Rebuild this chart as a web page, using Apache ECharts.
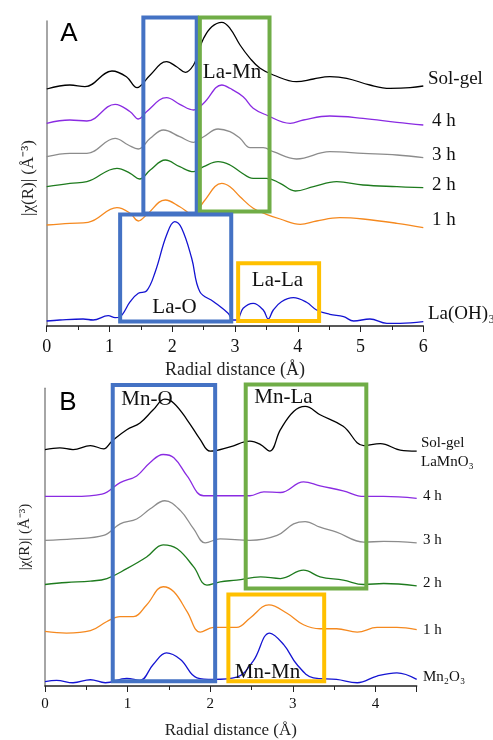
<!DOCTYPE html>
<html>
<head>
<meta charset="utf-8">
<script src="https://cdn.jsdelivr.net/npm/echarts@6/dist/echarts.min.js"></script>
<style>html,body{margin:0;padding:0;background:#fff;}#c{width:493px;height:740px;}</style>
</head>
<body>
<div id="c"></div>
<script>
// ---------- Panel A data (x in Å, y in offset units) ----------
const aX_solgel = [0,0.37,0.61,1.04,1.27,1.44,1.51,1.65,1.91,2.07,2.21,2.34,2.42,2.50,2.63,2.79,2.92,3.08,3.24,3.40,3.61,3.98,4.25,4.51,4.78,5.15,5.47,5.79,6.0];
const aY_solgel = [237,241,239.3,255,249.3,238.3,241,251,264.3,259.3,253.7,261,274.3,287.7,299.3,303.7,297.7,281,267.7,257.7,251,244.3,247,249.3,247.7,241,237.7,238.3,240];
const aX_4h = [0,0.37,0.64,1.09,1.33,1.46,1.59,1.91,2.12,2.34,2.50,2.79,2.92,3.13,3.29,3.50,3.88,4.09,4.51,5.04,5.58,6.0];
const aY_4h = [202.7,206,205,221.7,214.3,207,214.3,228.3,221.7,216,222.7,241,237.7,229.3,217.7,211,202.7,206,210,207.7,203.7,201];
const aX_3h = [0,0.37,0.64,1.09,1.30,1.46,1.65,1.86,2.12,2.34,2.50,2.73,2.92,3.08,3.24,3.45,3.61,3.98,4.51,5.04,5.58,6.0];
const aY_3h = [169.3,172.7,172.7,187.7,181,177,187.7,196,189.3,183.7,189.3,197,194.3,187.7,178.3,178.3,174.3,167,174.3,172.7,171,168.3];
const aX_2h = [0,0.37,0.64,1.12,1.33,1.48,1.65,1.89,2.12,2.34,2.50,2.73,2.92,3.08,3.29,3.50,3.72,3.96,4.25,4.62,5.04,5.58,6.0];
const aY_2h = [139.3,142.7,144.3,157.7,152.7,147,156,166,159.3,154.3,159.3,164.3,161,154.3,147.7,147.7,142.7,135,139.3,144.3,141,139.3,138.3];
const aX_1h = [0,0.37,0.66,1.12,1.33,1.46,1.59,1.89,2.12,2.34,2.50,2.79,2.92,3.08,3.29,3.50,3.72,4.04,4.30,4.67,5.04,5.58,6.0];
const aY_1h = [101,102.7,103.7,118.3,112.7,105,111,126,119.3,111,124.3,142.7,139.3,129.3,117.7,111.7,107,101.7,105,108.3,107,102.7,98.3];
const aX_laoh = [0,0.21,0.58,0.74,0.98,1.09,1.17,1.33,1.46,1.59,1.73,1.91,2.04,2.15,2.31,2.44,2.66,2.89,2.97,3.03,3.13,3.29,3.45,3.53,3.61,3.74,3.93,4.14,4.30,4.51,4.73,4.89,5.15,5.42,5.63,6.0];
const aY_laoh = [5,6,7,6,10.3,8.3,9.3,24.3,32.7,35,54.3,91,104.3,97.7,67.7,34.3,24.3,12.7,6,6,17.7,22.7,16,7,16,24.3,28.3,23.7,16,11.7,9.3,5,7,2.7,2.7,4.3];
const aXTicks = [0,1,2,3,4,5,6];
const aLabels = ['Sol-gel','4 h','3 h','2 h','1 h','La(OH)₃'];
// boxes: [x1, y1, x2, y2, colourIndex]
const aBoxes = [[1.54,308.5,2.39,112.5,0],[2.44,308.5,3.55,114.5,1],[1.17,111.5,2.94,4.5,0],[3.05,62.7,4.34,5,2]];
const aBoxLabels = ['La-Mn','La-O','La-La'];

// ---------- Panel B data ----------
const bX_solgel = [0,0.18,0.34,0.55,0.71,0.81,0.99,1.15,1.31,1.45,1.56,1.72,1.88,2.0,2.24,2.48,2.61,2.72,2.85,3.01,3.15,3.33,3.61,3.86,4.06,4.30,4.5];
const bY_solgel = [238.3,240,238.3,242.3,239,246.7,258.3,265,278.3,289,285,268.3,248.3,236.7,241,246.7,243.3,236.7,258.3,276.7,281.7,273.3,261.7,242.3,244.3,237.7,236.7];
const bX_4h = [0,0.34,0.69,0.91,1.11,1.27,1.43,1.56,1.72,1.92,2.12,2.48,2.65,2.85,3.13,3.33,3.61,3.86,4.10,4.5];
const bY_4h = [191,191,193.3,205,211.7,225,233.3,230,211.7,191.7,191.7,191.7,195.7,195,205.7,201.7,196.7,191,191,189];
const bX_3h = [0,0.34,0.71,0.91,1.11,1.27,1.45,1.64,1.80,1.94,2.12,2.48,2.81,3.01,3.15,3.33,3.53,3.86,4.10,4.5];
const bY_3h = [146.7,148.3,151.7,163.3,168.3,178.3,186.7,176.7,158.3,144.3,148.3,146.7,151.7,163.3,165.7,160,155,145,145.7,144.3];
const bX_2h = [0,0.26,0.55,0.75,0.99,1.23,1.43,1.60,1.80,1.96,2.12,2.32,2.61,2.85,3.13,3.33,3.61,3.86,4.10,4.5];
const bY_2h = [102.3,104.3,105.7,108.3,118.3,130,142.3,138.3,120,101.7,105,106.7,110,108.3,116.7,110,106.7,102.3,103.3,101];
const bX_1h = [0,0.26,0.55,0.75,0.91,1.07,1.23,1.43,1.56,1.72,1.88,2.04,2.32,2.48,2.71,2.93,3.13,3.33,3.53,3.78,4.02,4.26,4.5];
const bY_1h = [55,53.3,55.7,65,70,70,81.7,100,95,75,54.3,59,59,68.3,81.7,73.3,61.7,57.7,57.7,54.3,59,59,56.7];
const bX_mn2o3 = [0,0.14,0.34,0.55,0.73,0.99,1.15,1.31,1.47,1.64,1.84,2.04,2.32,2.52,2.72,2.89,3.05,3.25,3.53,3.78,4.02,4.26,4.5];
const bY_mn2o3 = [4.3,5.7,3.3,6.3,3.3,7.7,5.7,21.7,33.3,26.7,8.3,6.7,9,25,53.3,41.7,21.7,8.3,6.7,3.3,10,13.3,6.7];
const bXTicks = [0,1,2,3,4];
const bLabels = ['Sol-gel','LaMnO₃','4 h','3 h','2 h','1 h','Mn₂O₃'];
const bBoxes = [[0.82,303.3,2.06,4.8,0],[2.43,303.8,3.89,98.3,1],[2.22,92.3,3.38,4.8,2]];
const bBoxLabels = ['Mn-O','Mn-La','Mn-Mn'];

const colors = ['#000000','#8A2BE2','#8C8C8C','#1E7B1E','#F5891F','#1414D2'];
const boxColors = ['#4472C4','#70AD47','#FFC000'];
const serif = '"Liberation Serif", "Times New Roman", serif';
const sans = '"Liberation Sans", Arial, sans-serif';

function zip(xs, ys){ return xs.map((x,i)=>[x, ys[i]]); }
function lineSeries(idx, xs, ys, color){
  return {type:'line', xAxisIndex:idx, yAxisIndex:idx, data:zip(xs,ys), smooth:0.4, showSymbol:false,
    lineStyle:{color:color, width:1.3}, z:2, silent:true};
}
function renderBox(params, api){
  const p1 = api.coord([api.value(0), api.value(1)]);
  const p2 = api.coord([api.value(2), api.value(3)]);
  return {type:'rect', shape:{x:Math.min(p1[0],p2[0]), y:Math.min(p1[1],p2[1]), width:Math.abs(p2[0]-p1[0]), height:Math.abs(p2[1]-p1[1])},
    style:{fill:'none', stroke:boxColors[api.value(4)], lineWidth:4}};
}
function xAx(idx, max, fs, ticks){
  return {type:'value', gridIndex:idx, min:0, max:max, interval:1,
    axisLine:{show:true, onZero:false, lineStyle:{color:'#222', width:1.5}},
    axisTick:{show:true, length:6, lineStyle:{color:'#222'}},
    minorTick:{show:true, splitNumber:2, length:4, lineStyle:{color:'#222'}},
    splitLine:{show:false},
    axisLabel:{fontFamily:serif, fontSize:fs, color:'#111', margin: idx===0?12:11,
      formatter: v => ticks.indexOf(v) >= 0 ? String(v) : ''},
    name:'Radial distance (Å)', nameLocation:'middle', nameGap: idx===0?35:36,
    nameTextStyle:{fontFamily:serif, fontSize: idx===0?18:17, color:'#222'}};
}
function yAx(idx, max){
  return {type:'value', gridIndex:idx, min:0, max:max,
    axisLine:{show:true, lineStyle:{color:'#888', width:1.5}}, axisTick:{show:false}, axisLabel:{show:false}, splitLine:{show:false}};
}
function txt(x, y, text, fs, font, align){
  return {type:'text', x:x, y:y, z:100, style:{text:text, fontSize:fs, fontFamily:font, fill:'#111', align:align||'left', verticalAlign:'middle'}};
}

const graphics = [
  {type:'text', x:69, y:34, z:100, style:{text:'A', fontSize:26, fontFamily:sans, fill:'#000', align:'center', verticalAlign:'middle'}},
  {type:'text', x:68, y:403, z:100, style:{text:'B', fontSize:26, fontFamily:sans, fill:'#000', align:'center', verticalAlign:'middle'}},
  {type:'text', x:29, y:178, rotation:Math.PI/2, z:100, style:{text:'|χ(R)| (Å⁻³)', fontSize:17, fontFamily:serif, fill:'#222', align:'center', verticalAlign:'middle'}},
  {type:'text', x:25, y:537, rotation:Math.PI/2, z:100, style:{text:'|χ(R)| (Å⁻³)', fontSize:15, fontFamily:serif, fill:'#222', align:'center', verticalAlign:'middle'}},
];
const aLabelPos = [[428,79],[432,121],[432,155],[432,185],[432,220],[428,314]];
aLabels.forEach((t,i)=>graphics.push(txt(aLabelPos[i][0], aLabelPos[i][1], t, 19, serif)));
const bLabelPos = [[421,443],[421,462],[423,496],[423,540],[423,583],[423,630],[423,677]];
bLabels.forEach((t,i)=>graphics.push(txt(bLabelPos[i][0], bLabelPos[i][1], t, 15, serif)));
const aBoxLabelPos = [[232,72],[174.5,307],[277.5,280]];
aBoxLabels.forEach((t,i)=>graphics.push(txt(aBoxLabelPos[i][0], aBoxLabelPos[i][1], t, 21, serif, 'center')));
const bBoxLabelPos = [[147,399],[283.5,397],[267.5,672]];
bBoxLabels.forEach((t,i)=>graphics.push(txt(bBoxLabelPos[i][0], bBoxLabelPos[i][1], t, 21, serif, 'center')));

const option = {
  animation:false,
  backgroundColor:'#fff',
  grid:[{left:46.7, top:21, width:376.6, height:305},{left:45, top:388.3, width:371.7, height:300}],
  xAxis:[xAx(0,6,18,aXTicks), xAx(1,4.5,15,bXTicks)],
  yAxis:[yAx(0,305), yAx(1,300)],
  series:[
    lineSeries(0,aX_solgel,aY_solgel,colors[0]),
    lineSeries(0,aX_4h,aY_4h,colors[1]),
    lineSeries(0,aX_3h,aY_3h,colors[2]),
    lineSeries(0,aX_2h,aY_2h,colors[3]),
    lineSeries(0,aX_1h,aY_1h,colors[4]),
    lineSeries(0,aX_laoh,aY_laoh,colors[5]),
    lineSeries(1,bX_solgel,bY_solgel,colors[0]),
    lineSeries(1,bX_4h,bY_4h,colors[1]),
    lineSeries(1,bX_3h,bY_3h,colors[2]),
    lineSeries(1,bX_2h,bY_2h,colors[3]),
    lineSeries(1,bX_1h,bY_1h,colors[4]),
    lineSeries(1,bX_mn2o3,bY_mn2o3,colors[5]),
    {type:'custom', xAxisIndex:0, yAxisIndex:0, data:aBoxes, renderItem:renderBox, z:5, clip:false, silent:true},
    {type:'custom', xAxisIndex:1, yAxisIndex:1, data:bBoxes, renderItem:renderBox, z:5, clip:false, silent:true}
  ],
  graphic:graphics
};
const chart = echarts.init(document.getElementById('c'), null, {renderer:'canvas'});
chart.setOption(option);
</script>
</body>
</html>
